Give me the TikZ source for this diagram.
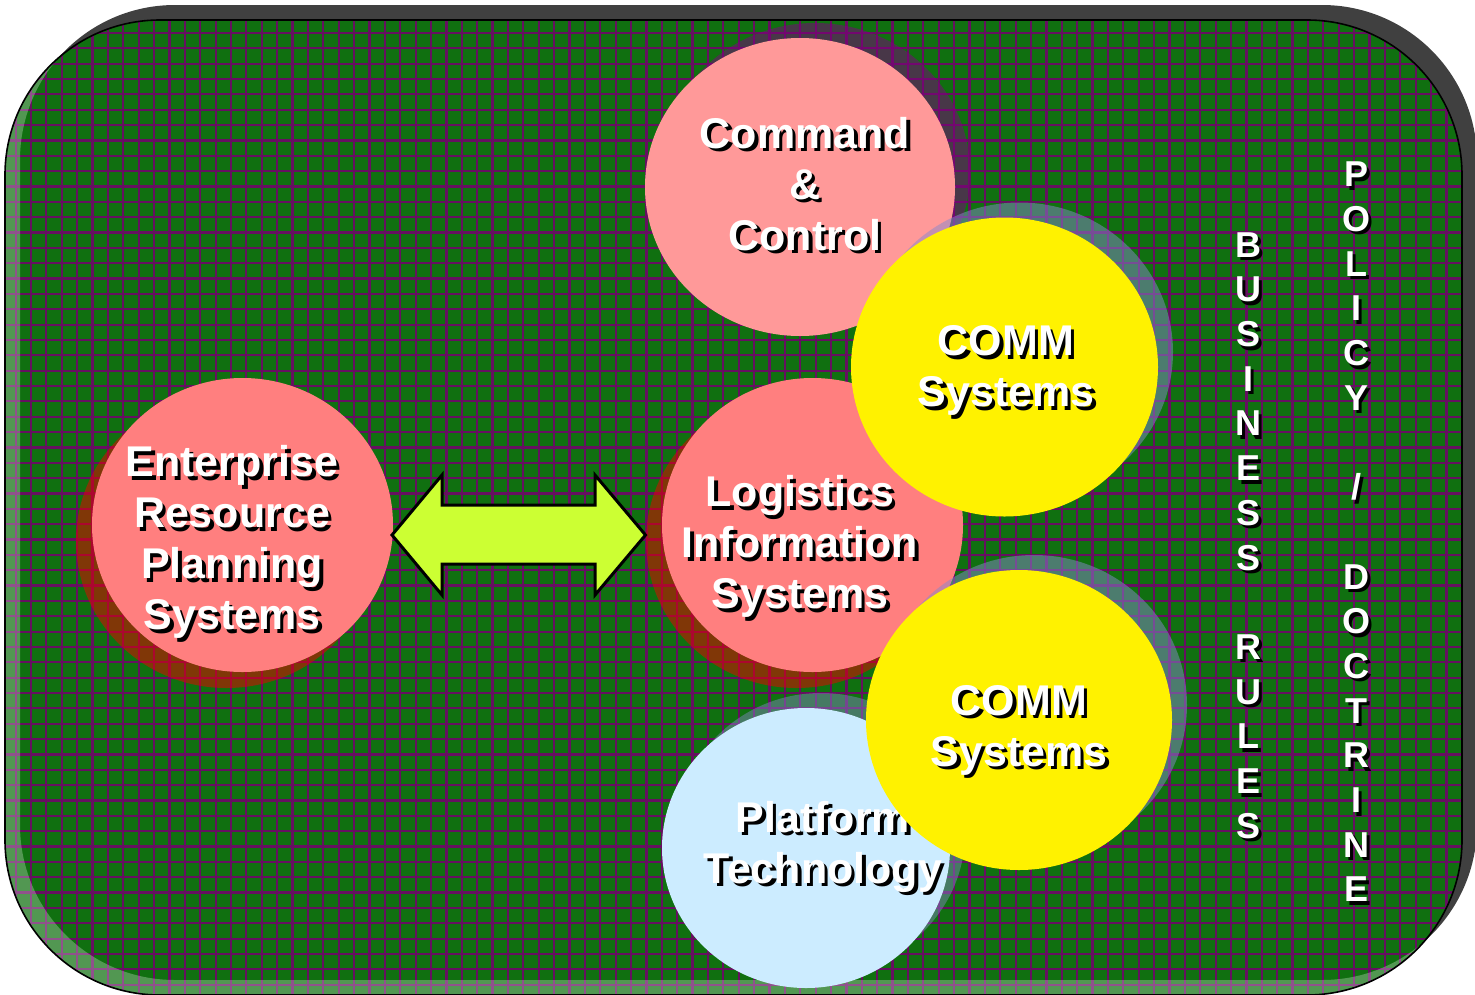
\documentclass[tikz,border=0pt]{standalone}
\usepackage{fontspec}
\setmainfont{Liberation Sans}
\usetikzlibrary{shapes.geometric}
\definecolor{gridpurple}{RGB}{102,16,96}
\definecolor{dgreen}{RGB}{16,112,16}
\definecolor{framegray}{RGB}{64,64,64}
\definecolor{limeA}{RGB}{204,255,51}
\definecolor{pinkA}{RGB}{255,153,153}
\definecolor{pinkB}{RGB}{255,127,127}
\definecolor{lblue}{RGB}{204,236,255}
\definecolor{yshadow}{RGB}{136,136,204}
\definecolor{pshadow}{RGB}{128,0,128}
\definecolor{rshadow}{RGB}{240,0,0}
\tikzset{
  lbl/.style={font=\bfseries\fontsize{43}{51}\selectfont, align=center, inner sep=0pt},
  vlbl/.style={font=\bfseries\fontsize{36}{44.7}\selectfont, align=center, inner sep=0pt},
  blob/.style={ellipse, inner sep=0pt},
  gridline/.style={draw=gridpurple, line width=2.2pt},
  bigarrow/.style={draw=black, line width=3pt, fill=limeA, line join=miter},
}
\newcommand\shadowtext[4]{%
  \node[#3, text=black] (#1-sh) at ([shift={(3.5,3.5)}]#2) {#4};
  \node[#3, text=white] (#1) at (#2) {#4};
}
\begin{document}
\begin{tikzpicture}[x=1pt,y=-1pt]
\useasboundingbox (0,0) rectangle (1475,994);
% frame shadow
\fill[framegray, rounded corners=155pt] (20,5) rectangle (1477,980);
% main panel
\fill[dgreen, rounded corners=155pt] (5,20) rectangle (1462,995);
\begin{scope}
  \clip[rounded corners=155pt] (5,20) rectangle (1462,995);
  \foreach \i in {-2,...,95} \draw[gridline] ({31+15.385*\i},0) -- ({31+15.385*\i},1000);
  \foreach \j in {-3,...,63} \draw[gridline] (0,{48.3+15.35*\j}) -- (1480,{48.3+15.35*\j});
  \fill[white, opacity=0.28, even odd rule, rounded corners=155pt]
     (5,20) rectangle (1462,995) (20,5) rectangle (1477,980);
\end{scope}
\draw[black, line width=1.6pt, rounded corners=155pt] (5,20) rectangle (1462,995);

% Command & Control
\node[blob, fill=pshadow, opacity=0.5, minimum width=310, minimum height=298] (cmd-shadow) at (815,172) {};
\node[blob, fill=pinkA, minimum width=310, minimum height=298] (cmd) at (800,187) {};
\shadowtext{cmdtxt}{805,184}{lbl}{Command\\\&\\Control}

% ERP
\node[blob, fill=rshadow, opacity=0.5, minimum width=301, minimum height=294] (erp-shadow) at (226.5,541) {};
\node[blob, fill=pinkB, minimum width=301, minimum height=294] (erp) at (242.5,525) {};
\shadowtext{erptxt}{232,542}{lbl}{Enterprise\\Resource\\Planning\\Systems}

% Logistics
\node[blob, fill=rshadow, opacity=0.5, minimum width=301, minimum height=294] (log-shadow) at (796.5,541) {};
\node[blob, fill=pinkB, minimum width=301, minimum height=294] (log) at (812.5,525) {};
\shadowtext{logtxt}{800,546.5}{lbl}{Logistics\\Information\\Systems}

% Platform
\node[blob, fill=yshadow, opacity=0.45, minimum width=288, minimum height=280] (plat-shadow) at (821,833) {};
\node[blob, fill=lblue, minimum width=288, minimum height=280] (plat) at (806,848) {};
\shadowtext{plattxt}{823,846.5}{lbl}{Platform\\Technology}

% COMM top
\node[blob, fill=yshadow, opacity=0.5, minimum width=307, minimum height=299] (comm1-shadow) at (1019.5,352) {};
\node[blob, fill=yellow, minimum width=307, minimum height=299] (comm1) at (1004.5,367) {};
\shadowtext{comm1txt}{1006,370.5}{lbl}{COMM\\Systems}

% COMM bottom
\node[blob, fill=yshadow, opacity=0.5, minimum width=306, minimum height=300] (comm2-shadow) at (1034,705) {};
\node[blob, fill=yellow, minimum width=306, minimum height=300] (comm2) at (1019,720) {};
\shadowtext{comm2txt}{1019,730}{lbl}{COMM\\Systems}

% double arrow between ERP and Logistics
\coordinate (aL) at (392,535);
\coordinate (aR) at (645.5,535);
\draw[bigarrow] (aL) -- (442,475) -- (442,505) -- (595,505) -- (595,475) -- (aR)
   -- (595,595) -- (595,564) -- (442,564) -- (442,595) -- cycle;

% vertical texts
\shadowtext{biz}{1248,535.5}{vlbl}{B\\U\\S\\I\\N\\E\\S\\S\\~\\R\\U\\L\\E\\S}
\shadowtext{pol}{1356,532}{vlbl}{P\\O\\L\\I\\C\\Y\\~\\/\\~\\D\\O\\C\\T\\R\\I\\N\\E}
\end{tikzpicture}
\end{document}
